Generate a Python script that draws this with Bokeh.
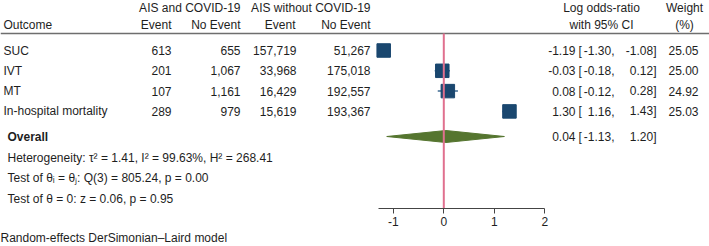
from bokeh.plotting import figure
from bokeh.models import Range1d, LinearAxis, FixedTicker, Title
from bokeh.core.properties import value
from bokeh.embed import file_html
from bokeh.resources import INLINE

# ---- data ----
outcomes = ["SUC", "IVT", "MT", "In-hospital mortality"]
covid_event = [613, 201, 107, 289]
covid_noevent = [655, 1067, 1161, 979]
nocovid_event = [157719, 33968, 16429, 15619]
nocovid_noevent = [51267, 175018, 192557, 193367]
log_or = [-1.19, -0.03, 0.08, 1.30]
ci_low = [-1.30, -0.18, -0.12, 1.16]
ci_high = [-1.08, 0.12, 0.28, 1.43]
weights = [25.05, 25.00, 24.92, 25.03]
overall = [0.04, -1.13, 1.20]
axis_ticks = [-1, 0, 1, 2]
stats_lines = [
    "Heterogeneity: \u03c4\u00b2 = 1.41, I\u00b2 = 99.63%, H\u00b2 = 268.41",
    "Test of \u03b8\u1d62 = \u03b8\u2c7c: Q(3) = 805.24, p = 0.00",
    "Test of \u03b8 = 0: z = 0.06, p = 0.95",
]
footnote = "Random-effects DerSimonian\u2013Laird model"

# ---- layout ----
W, H = 709, 246
FRAME_H = 208
ZERO_PX = 443.3
PX_PER_UNIT = 50.5
FONT = value("Liberation Sans")
FS = "12px"
TXT = "#1e1e1e"

p = figure(width=W, height=H,
           x_range=Range1d(-ZERO_PX / PX_PER_UNIT, (W - ZERO_PX) / PX_PER_UNIT),
           y_range=Range1d(FRAME_H, 0),
           x_axis_location=None, y_axis_location=None,
           min_border_left=0, min_border_right=0, min_border_top=0,
           min_border_bottom=H - FRAME_H,
           output_backend="svg", toolbar_location=None)
p.outline_line_color = None
p.grid.visible = False
p.background_fill_color = "white"
p.border_fill_color = "white"
p.extra_x_ranges = {"px": Range1d(0, W)}

row_y = [50 + 20.3 * i for i in range(len(outcomes))]
overall_y = 136
stats_y = [157, 177.5, 198]
hdr1, hdr2, rule_y = 7, 24, 33


def txt(x, y, s, align="left", bold=False):
    p.text(x=x, y=y, text=s, x_range_name="px", text_font=FONT,
           text_font_size=FS, text_color=TXT, text_align=align,
           text_baseline="middle",
           text_font_style="bold" if bold else "normal")

# header
txt([240, 370], [hdr1] * 2, ["AIS and COVID-19", "AIS without COVID-19"], "right")
txt([601], [hdr1], ["Log odds-ratio"], "center")
txt([684], [hdr1], ["Weight"], "center")
txt([3], [hdr2], ["Outcome"])
txt([171, 240, 295, 370], [hdr2] * 4, ["Event", "No Event", "Event", "No Event"], "right")
txt([601, 684], [hdr2] * 2, ["with 95% CI", "(%)"], "center")
p.segment(x0=[0], y0=[rule_y], x1=[W], y1=[rule_y], x_range_name="px",
          line_color="#6e6e6e", line_width=1.5)

# study rows
txt([3] * 4, row_y, outcomes)
txt([171] * 4, row_y, [f"{v:,}" for v in covid_event], "right")
txt([240] * 4, row_y, [f"{v:,}" for v in covid_noevent], "right")
txt([296] * 4, row_y, [f"{v:,}" for v in nocovid_event], "right")
txt([370] * 4, row_y, [f"{v:,}" for v in nocovid_noevent], "right")
txt([575] * 4, row_y, [f"{v:.2f}" for v in log_or], "right")
txt([578] * 4, row_y, ["["] * 4)
txt([614] * 4, row_y, [f"{v:.2f}," for v in ci_low], "right")
txt([656] * 4, row_y, [f"{v:.2f}]" for v in ci_high], "right")
txt([698] * 4, row_y, [f"{v:.2f}" for v in weights], "right")

# overall
txt([7], [overall_y], ["Overall"], bold=True)
txt([575], [overall_y], [f"{overall[0]:.2f}"], "right")
txt([578], [overall_y], ["["])
txt([614], [overall_y], [f"{overall[1]:.2f},"], "right")
txt([656], [overall_y], [f"{overall[2]:.2f}]"], "right")
txt([7] * 3, stats_y, stats_lines)

# forest marks
p.segment(x0=ci_low, x1=ci_high, y0=row_y, y1=row_y, line_color="#3d6a92", line_width=1.5)
p.scatter(x=log_or, y=row_y, marker="square",
          size=[13.5 * (w / 25) ** 0.5 for w in weights],
          fill_color="#1a476f", line_color="#1a476f")
p.patch(x=[overall[1], overall[0], overall[2], overall[0]],
        y=[overall_y, overall_y - 6, overall_y, overall_y + 6],
        fill_color="#55752f", line_color="#55752f")
p.segment(x0=[0], x1=[0], y0=[rule_y], y1=[FRAME_H], line_color="#e0708f", line_width=2)

axis = LinearAxis(ticker=FixedTicker(ticks=axis_ticks), bounds=(-1.29, 2.0),
                  major_label_overrides={t: str(t) for t in axis_ticks},
                  axis_line_color="#444444", axis_line_width=1.2,
                  major_tick_line_color="#444444", major_tick_out=5, major_tick_in=0,
                  minor_tick_line_color=None, major_label_standoff=3,
                  major_label_text_font="Liberation Sans",
                  major_label_text_font_size="12px", major_label_text_color=TXT)
p.add_layout(axis, "below")

p.add_layout(Title(text=footnote, align="left", standoff=0, offset=0,
                   text_font="Liberation Sans", text_font_size=FS,
                   text_font_style="normal", text_color=TXT,
                   text_line_height=1.6), "below")

open("out.html", "w").write(file_html(p, INLINE))
